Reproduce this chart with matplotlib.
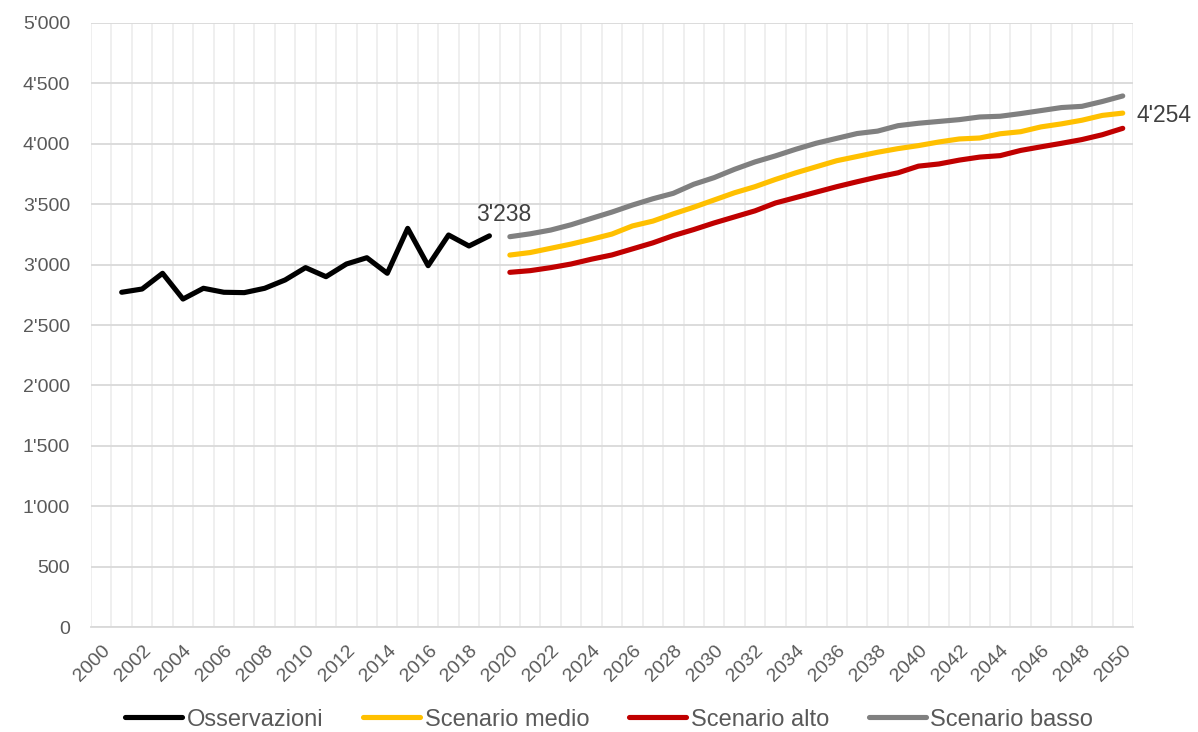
import numpy as np
from matplotlib import pyplot as plt
from matplotlib import ticker

plt.rcParams['font.family'] = ['Liberation Sans', 'DejaVu Sans']

# observed values 2001-2019
obs_years = list(range(2001, 2020))
obs = [2771, 2798, 2928, 2715, 2804, 2771, 2768, 2804, 2873, 2975,
       2900, 3005, 3057, 2928, 3300, 2991, 3245, 3154, 3238]

# scenarios 2020-2050
scen_years = list(range(2020, 2051))
medio = [3079, 3100, 3135, 3170, 3210, 3253, 3320, 3360, 3420, 3475,
         3535, 3595, 3645, 3705, 3760, 3810, 3860, 3895, 3930, 3960,
         3985, 4015, 4040, 4048, 4083, 4100, 4140, 4165, 4195, 4235, 4254]
alto = [2936, 2950, 2975, 3005, 3045, 3080, 3130, 3180, 3240, 3290,
        3345, 3395, 3445, 3510, 3555, 3600, 3645, 3686, 3725, 3760,
        3815, 3833, 3865, 3890, 3902, 3945, 3975, 4004, 4035, 4075, 4128]
basso = [3231, 3255, 3286, 3330, 3383, 3435, 3493, 3545, 3590, 3665,
         3720, 3789, 3850, 3900, 3955, 4005, 4045, 4085, 4105, 4150,
         4170, 4185, 4200, 4222, 4228, 4250, 4275, 4300, 4310, 4350, 4396]

all_years = list(range(2000, 2051))

fig = plt.figure(figsize=(11.98, 7.32), dpi=100)
ax = fig.add_axes([0.076, 0.1434, 0.8697, 0.8252])

def pos(years):
    return [all_years.index(y) for y in years]

lw = 3.7
ax.plot(pos(obs_years), obs, color='#000000', lw=lw, label='Osservazioni', solid_capstyle='round', zorder=5)
ax.plot(pos(scen_years), medio, color='#FFC000', lw=lw, label='Scenario medio', solid_capstyle='round', zorder=4)
ax.plot(pos(scen_years), alto, color='#C00000', lw=lw, label='Scenario alto', solid_capstyle='round', zorder=4)
ax.plot(pos(scen_years), basso, color='#808080', lw=lw, label='Scenario basso', solid_capstyle='round', zorder=4)

# data labels
ax.annotate("3'238", (pos([2019])[0], obs[-1]), xytext=(10, 7), textcoords='offset points',
            ha='center', va='bottom', fontsize=16.5, color='#404040')
ax.annotate("4'254", (pos([2050])[0], medio[-1]), xytext=(10, -2), textcoords='offset points',
            ha='left', va='center', fontsize=16.5, color='#404040')

ax.set_xlim(-0.5, len(all_years) - 0.5)
ax.set_ylim(0, 5000)
ax.yaxis.set_major_locator(ticker.MultipleLocator(500))
ax.yaxis.set_major_formatter(ticker.FuncFormatter(lambda v, p: f"{v:,.0f}".replace(",", "'")))

ax.set_xticks(range(0, len(all_years), 2))
ax.set_xticklabels([str(y) for y in all_years[::2]], rotation=45, ha='right', rotation_mode='anchor')
ax.set_xticks(np.arange(-0.5, len(all_years), 1), minor=True)

ax.grid(axis='y', which='major', color='#D9D9D9', lw=1.3)
ax.grid(axis='x', which='minor', color='#EEEEEE', lw=1.3)
ax.grid(axis='x', which='major', visible=False)
ax.set_axisbelow(True)

for s in ['top', 'right', 'left']:
    ax.spines[s].set_visible(False)
ax.spines['bottom'].set_color('#D9D9D9')
ax.spines['bottom'].set_linewidth(1.3)

ax.tick_params(axis='both', which='both', length=0, labelsize=14, colors='#595959')
ax.tick_params(axis='y', pad=15)
ax.tick_params(axis='x', pad=11)

leg = ax.legend(loc='center', bbox_to_anchor=(0.5085, 0.017), bbox_transform=fig.transFigure,
                ncol=4, frameon=False, borderpad=0, borderaxespad=0,
                fontsize=17, handlelength=2.4, handletextpad=0.2, columnspacing=1.7)
for t in leg.get_texts():
    t.set_color('#595959')

plt.savefig('out.png', dpi=100)
plt.close()
